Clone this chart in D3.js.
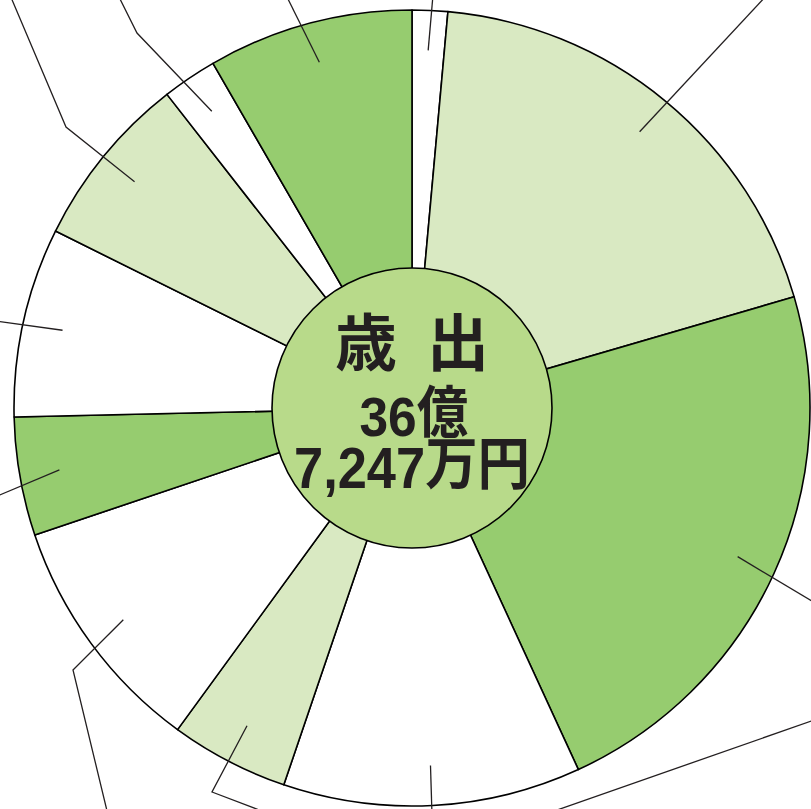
<!DOCTYPE html>
<html lang="ja">
<head>
<meta charset="utf-8">
<script src="https://cdn.jsdelivr.net/npm/d3@7"></script>
<style>
  html, body { margin: 0; padding: 0; background: #fff; }
  svg { display: block; }
</style>
</head>
<body>
<svg id="chart" width="811" height="809"></svg>
<script>
// ---- Data (万円), clockwise from 12 o'clock ----
const categories = ["議会費", "総務費", "民生費", "衛生費", "農林水産業費", "商工費", "土木費", "消防費", "教育費", "災害復旧費", "公債費"];
const values     = [5284, 69980, 83141, 44376, 17648, 36011, 17648, 28257, 26115, 8161, 30604];
const tones      = ["white", "light", "dark", "white", "light", "white", "dark", "white", "light", "white", "dark"];
const centerTitle = ["歳", "出"];
const centerLine1 = ["36", "億"];
const centerLine2 = ["7,247", "万円"];

// ---- Layout ----
const W = 811, H = 809;
const cx = 412, cy = 408;
const outerR = 398, innerR = 140, leaderR = 358;
const palette = { white: "#ffffff", light: "#d9e9c2", dark: "#96cc6f" };
const centerFill = "#b8da8a";
const ink = "#231f20";

// leader-line bends / exits (label anchors lie outside the picture)
const leaderPaths = [
  [[433, -5]],
  [[767, -5]],
  [[820, 606]],
  [[432, 815]],
  [[212, 792], [275, 816]],
  [[73, 670], [108, 815]],
  [[-5, 497]],
  [[-5, 321]],
  [[66, 127], [10, -5]],
  [[137, 33], [118, -5]],
  [[286, -5]]
];

const svg = d3.select("#chart");
const g = svg.append("g").attr("transform", `translate(${cx},${cy})`);

const pie = d3.pie().sort(null).value(d => d.value);
const data = categories.map((c, i) => ({ name: c, value: values[i], tone: tones[i] }));
const arcs = pie(data);

const arc = d3.arc().innerRadius(0).outerRadius(outerR);

g.selectAll("path.slice")
  .data(arcs)
  .enter().append("path")
  .attr("class", "slice")
  .attr("d", arc)
  .attr("fill", d => palette[d.data.tone])
  .attr("stroke", "#000")
  .attr("stroke-width", 1.6)
  .attr("stroke-linejoin", "round");

// leader lines
const line = d3.line();
arcs.forEach((a, i) => {
  const mid = (a.startAngle + a.endAngle) / 2;
  const start = [cx + leaderR * Math.sin(mid), cy - leaderR * Math.cos(mid)];
  const pts = [start].concat(leaderPaths[i]);
  svg.append("path")
    .attr("d", line(pts))
    .attr("fill", "none")
    .attr("stroke", ink)
    .attr("stroke-width", 1.3);
});
// a passing leader line from a label below the picture
svg.append("path")
  .attr("d", line([[540, 816], [820, 718]]))
  .attr("fill", "none")
  .attr("stroke", ink)
  .attr("stroke-width", 1.3);

// center circle
g.append("circle")
  .attr("r", innerR)
  .attr("fill", centerFill)
  .attr("stroke", "#000")
  .attr("stroke-width", 1.6);

const font = "'Liberation Sans', 'Noto Sans CJK JP', sans-serif";
g.append("text")
  .attr("x", 0).attr("y", -42)
  .attr("text-anchor", "middle")
  .attr("font-family", "'Noto Sans CJK JP', sans-serif")
  .attr("font-weight", 700)
  .attr("font-size", 62)
  .attr("fill", ink)
  .selectAll("tspan")
  .data(centerTitle)
  .enter().append("tspan")
  .attr("x", (d, i) => i === 0 ? -46 : 46)
  .text(d => d);

const amount = g.append("text")
  .attr("transform", "scale(0.92,1)")
  .attr("text-anchor", "middle")
  .attr("font-family", font)
  .attr("font-weight", 700)
  .attr("fill", ink);
const l1 = amount.append("tspan").attr("x", 2).attr("y", 28).attr("font-size", 56);
l1.append("tspan").text(centerLine1[0]);
l1.append("tspan").attr("dy", -4).text(centerLine1[1]);
const l2 = amount.append("tspan").attr("x", 0).attr("y", 80).attr("font-size", 57);
l2.append("tspan").text(centerLine2[0]);
l2.append("tspan").attr("dy", -4).text(centerLine2[1]);
</script>
</body>
</html>
